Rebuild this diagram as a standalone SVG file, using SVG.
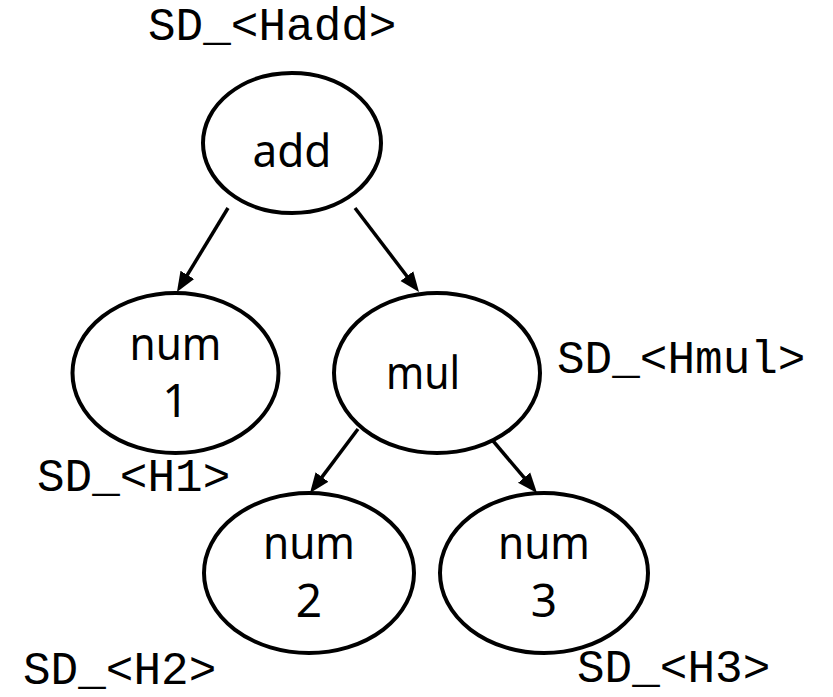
<svg xmlns="http://www.w3.org/2000/svg" width="833" height="697" viewBox="0 0 833 697">
  <style>
    .node { fill: #ffffff; stroke: #000000; stroke-width: 4; }
    .lbl { font-family: "Noto Sans", "Liberation Sans", sans-serif; font-size: 46px; fill: #000000; text-anchor: middle; }
    .tag { font-family: "Liberation Mono", "Courier New", monospace; font-size: 46px; fill: #000000; }
    .edge { stroke: #000000; stroke-width: 3.5; fill: none; marker-end: url(#arrow); }
  </style>
  <defs>
    <marker id="arrow" markerUnits="userSpaceOnUse" markerWidth="22" markerHeight="18" viewBox="0 -9 22 18" refX="2" refY="0" orient="auto">
      <path d="M0,-8 L20,0 L0,8 z" fill="#000000"/>
    </marker>
  </defs>

  <rect width="833" height="697" fill="#ffffff"/>

  <!-- connectors -->
  <g id="edges">
    <line class="edge" x1="228" y1="208" x2="186.3" y2="276.6"/>
    <line class="edge" x1="355" y1="208" x2="408.1" y2="277.7"/>
    <line class="edge" x1="358" y1="429" x2="320.8" y2="478.6"/>
    <line class="edge" x1="483" y1="429" x2="525.4" y2="479.2"/>
  </g>

  <!-- nodes -->
  <g id="node-add">
    <ellipse class="node" cx="292" cy="143" rx="89" ry="70"/>
    <text class="lbl" x="292" y="167" textLength="79" lengthAdjust="spacingAndGlyphs">add</text>
  </g>
  <g id="node-num1">
    <ellipse class="node" cx="175.5" cy="373" rx="103" ry="80"/>
    <text class="lbl" x="175.5" y="360" textLength="92" lengthAdjust="spacingAndGlyphs">num</text>
    <text class="lbl" x="175.5" y="417">1</text>
  </g>
  <g id="node-mul">
    <ellipse class="node" cx="437" cy="373" rx="103" ry="80"/>
    <text class="lbl" x="423" y="389" textLength="74" lengthAdjust="spacingAndGlyphs">mul</text>
  </g>
  <g id="node-num2">
    <ellipse class="node" cx="309" cy="573" rx="105" ry="80"/>
    <text class="lbl" x="309" y="559" textLength="92" lengthAdjust="spacingAndGlyphs">num</text>
    <text class="lbl" x="309" y="617">2</text>
  </g>
  <g id="node-num3">
    <ellipse class="node" cx="544" cy="573" rx="104" ry="80"/>
    <text class="lbl" x="544" y="559" textLength="92" lengthAdjust="spacingAndGlyphs">num</text>
    <text class="lbl" x="544" y="617">3</text>
  </g>

  <!-- annotations -->
  <g id="tags">
    <text class="tag" x="148" y="40">SD_&lt;Hadd&gt;</text>
    <text class="tag" x="557" y="373">SD_&lt;Hmul&gt;</text>
    <text class="tag" x="37" y="491">SD_&lt;H1&gt;</text>
    <text class="tag" x="23" y="684">SD_&lt;H2&gt;</text>
    <text class="tag" x="577" y="682">SD_&lt;H3&gt;</text>
  </g>
</svg>
